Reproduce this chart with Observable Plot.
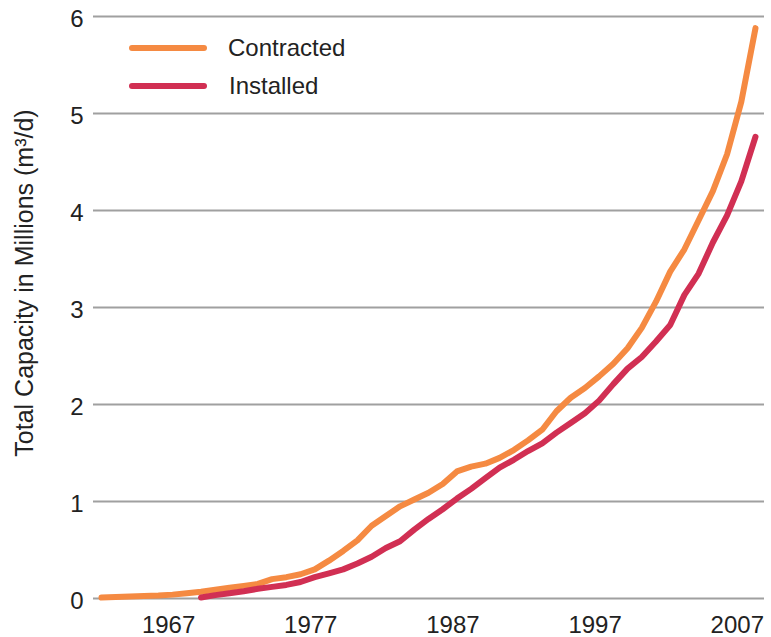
<!DOCTYPE html>
<html>
<head>
<meta charset="utf-8">
<script src="https://cdn.jsdelivr.net/npm/d3@7"></script>
<script src="https://cdn.jsdelivr.net/npm/@observablehq/plot@0.6"></script>
<style>
  html, body { margin: 0; padding: 0; background: #fff; }
  #wrap { position: relative; width: 771px; height: 637px; font-family: "Liberation Sans", Arial, sans-serif; color: #222; overflow: hidden; }
  .leg-bar { position: absolute; height: 6px; border-radius: 3px; }
  .leg-txt { position: absolute; font-size: 24px; line-height: 24px; transform: translateY(-50%); white-space: nowrap; }
  #ytitle { position: absolute; left: 24px; top: 283px; font-size: 25px; line-height: 25px; white-space: nowrap;
            transform: translate(-50%, -50%) rotate(-90deg); }
</style>
</head>
<body>
<div id="wrap"></div>
<script>
const years = [1962,1963,1964,1965,1966,1967,1968,1969,1970,1971,1972,1973,1974,1975,1976,1977,1978,1979,1980,1981,1982,1983,1984,1985,1986,1987,1988,1989,1990,1991,1992,1993,1994,1995,1996,1997,1998,1999,2000,2001,2002,2003,2004,2005,2006,2007,2008];
const contracted = [0.01,0.015,0.02,0.025,0.03,0.04,0.055,0.07,0.09,0.11,0.13,0.15,0.20,0.22,0.25,0.30,0.39,0.49,0.60,0.75,0.85,0.95,1.02,1.09,1.18,1.31,1.36,1.39,1.45,1.53,1.63,1.74,1.93,2.07,2.17,2.29,2.42,2.58,2.79,3.06,3.37,3.60,3.90,4.20,4.58,5.12,5.88];
const installed = [null,null,null,null,null,null,null,0.01,0.035,0.055,0.075,0.10,0.12,0.14,0.17,0.22,0.26,0.30,0.36,0.43,0.52,0.59,0.71,0.82,0.92,1.03,1.13,1.24,1.35,1.43,1.52,1.60,1.71,1.81,1.91,2.04,2.21,2.37,2.49,2.65,2.82,3.13,3.35,3.67,3.95,4.30,4.76];
const seriesNames = ["Contracted", "Installed"];
const seriesColors = ["#f58a42", "#d12f53"];
const xTicks = [1967, 1977, 1987, 1997, 2007];
const yTicks = [0, 1, 2, 3, 4, 5, 6];
const yLabel = "Total Capacity in Millions (m³/d)";

const rows = [];
years.forEach((y, i) => {
  rows.push({year: y, value: contracted[i], series: seriesNames[0]});
});
years.forEach((y, i) => {
  rows.push({year: y, value: installed[i], series: seriesNames[1]});
});

const chart = Plot.plot({
  width: 771,
  height: 637,
  marginLeft: 93,
  marginRight: 7,
  marginTop: 16,
  marginBottom: 39,
  style: {fontFamily: "'Liberation Sans', Arial, sans-serif", color: "#222", background: "#fff"},
  x: {domain: [1962, 2008], insetLeft: 8, insetRight: 9},
  y: {domain: [0, 6]},
  color: {domain: seriesNames, range: seriesColors},
  marks: [
    Plot.gridY(yTicks, {stroke: "#a0a0a0", strokeOpacity: 1, strokeWidth: 2}),
    Plot.axisY(yTicks, {tickSize: 0, tickPadding: 10, fontSize: 24, dy: 3, tickFormat: d => String(d), label: null}),
    Plot.axisX(xTicks, {tickSize: 0, tickPadding: 17, fontSize: 24, dx: -4, tickFormat: d => String(d), label: null}),
    Plot.line(rows, {x: "year", y: "value", z: "series", stroke: "series", strokeWidth: 6,
      strokeLinecap: "round", strokeLinejoin: "round"})
  ]
});

const wrap = document.getElementById("wrap");
wrap.appendChild(chart);

const yt = document.createElement("div");
yt.id = "ytitle";
yt.textContent = yLabel;
wrap.appendChild(yt);

const legendY = [48, 86];
seriesNames.forEach((name, i) => {
  const bar = document.createElement("div");
  bar.className = "leg-bar";
  bar.style.left = "129px";
  bar.style.width = "78px";
  bar.style.top = (legendY[i] - 3) + "px";
  bar.style.background = seriesColors[i];
  wrap.appendChild(bar);
  const t = document.createElement("div");
  t.className = "leg-txt";
  t.style.left = (i === 0 ? 228 : 229) + "px";
  t.style.top = legendY[i] + "px";
  t.textContent = name;
  wrap.appendChild(t);
});
</script>
</body>
</html>
